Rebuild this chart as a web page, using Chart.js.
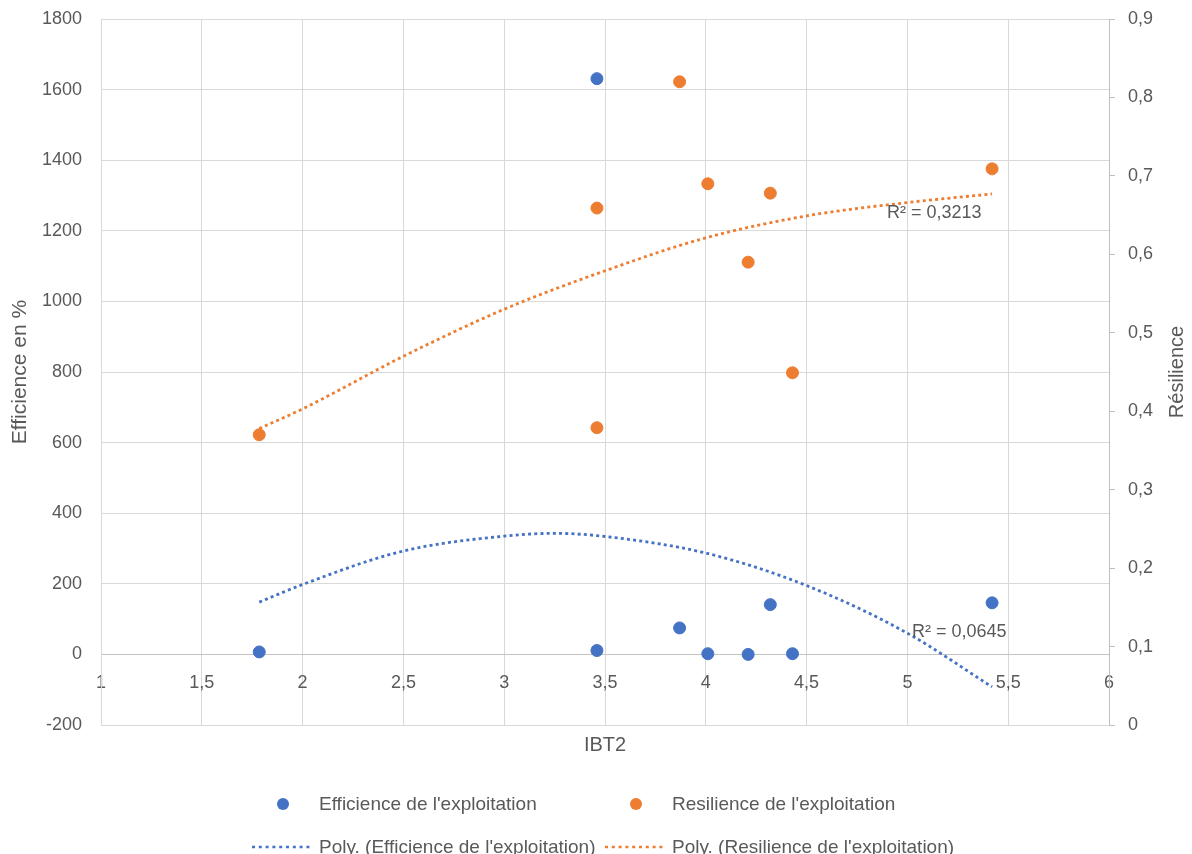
<!DOCTYPE html>
<html>
<head>
<meta charset="utf-8">
<script src="https://cdn.jsdelivr.net/npm/chart.js@4/dist/chart.umd.min.js"></script>
<style>
  html, body { margin: 0; padding: 0; background: #ffffff; }
  #wrap { position: relative; width: 1192px; height: 854px; overflow: hidden; }
  #c { position: absolute; left: 0; top: 0; }
  #legend { position: absolute; left: 252px; top: 792px; font-family: "Liberation Sans", Arial, sans-serif;
            font-size: 19px; color: #595959; display: grid; grid-template-columns: 353px 330px;
            grid-auto-rows: 24px; row-gap: 19px; }
  .item { display: flex; align-items: center; white-space: nowrap; height: 24px; }
  .mark { width: 61px; height: 24px; display: flex; align-items: center; justify-content: center; margin-right: 6px; flex: none; }
  .dot { width: 12px; height: 12px; border-radius: 50%; }
</style>
</head>
<body>
<div id="wrap">
  <canvas id="c" width="1192" height="854"></canvas>
  <div id="legend"></div>
</div>
<script>
// ---------- data ----------
const seriesNames = [
  "Efficience de l'exploitation",
  "Resilience de l'exploitation",
  "Poly. (Efficience de l'exploitation)",
  "Poly. (Resilience de l'exploitation)"
];
const ibt2 = [1.785, 3.46, 3.46, 3.87, 4.01, 4.21, 4.32, 4.43, 5.42];
const efficience = [7, 1631, 11, 75, 2, 0, 141, 2, 146];
const resilienceX = [1.785, 3.46, 3.46, 3.87, 4.01, 4.21, 4.32, 4.43, 5.42];
const resilience = [0.37, 0.659, 0.379, 0.82, 0.69, 0.59, 0.678, 0.449, 0.709];

const polyEffX = [1.785, 2, 2.5, 3, 3.25, 3.5, 4, 4.5, 5, 5.42];
const polyEffY = [148, 198, 293, 335, 343, 334, 287, 195, 60, -92];
const polyResX = [1.785, 2, 2.5, 3, 3.5, 4, 4.5, 5, 5.42];
const polyResY = [0.378, 0.403, 0.470, 0.530, 0.579, 0.621, 0.649, 0.666, 0.677];

const r2Texts = ["R\u00B2 = 0,0645", "R\u00B2 = 0,3213"];
const xTitle = "IBT2";
const yTitle = "Efficience en %";
const y2Title = "R\u00E9silience";

// ---------- styles ----------
const BLUE = '#4472C4';
const ORANGE = '#ED7D31';
const TXT = '#595959';
const GRID = '#d9d9d9';
const FONT = '"Liberation Sans", Arial, sans-serif';

const pts = (xs, ys) => xs.map((x, i) => ({x: x, y: ys[i]}));
const fmt = v => String(Math.round(v * 10) / 10).replace('.', ',');

const annotPlugin = {
  id: 'annot',
  afterDatasetsDraw(chart) {
    const ctx = chart.ctx;
    const sx = chart.scales.x, sy = chart.scales.y, sy2 = chart.scales.y2;
    ctx.save();
    ctx.fillStyle = TXT;
    ctx.font = '18px ' + FONT;
    ctx.textAlign = 'left';
    ctx.textBaseline = 'middle';
    ctx.fillText(r2Texts[0], sx.getPixelForValue(5.023), sy.getPixelForValue(62));
    ctx.fillText(r2Texts[1], sx.getPixelForValue(4.899), sy2.getPixelForValue(0.653));
    ctx.restore();
  },
  afterDraw(chart) {
    const ctx = chart.ctx;
    const a = chart.chartArea;
    ctx.save();
    ctx.fillStyle = TXT;
    ctx.font = '20px ' + FONT;
    ctx.textAlign = 'center';
    ctx.textBaseline = 'middle';
    ctx.translate(1177, (a.top + a.bottom) / 2);
    ctx.rotate(-Math.PI / 2);
    ctx.fillText(y2Title, 0, 0);
    ctx.restore();
  }
};

Chart.defaults.font.family = FONT;
Chart.defaults.color = TXT;

const chart = new Chart(document.getElementById('c'), {
  type: 'scatter',
  data: {
    datasets: [
      { type: 'scatter', label: seriesNames[0], data: pts(ibt2, efficience), yAxisID: 'y',
        pointRadius: 6, pointBackgroundColor: BLUE, pointBorderColor: BLUE, pointBorderWidth: 1, order: 1 },
      { type: 'scatter', label: seriesNames[1], data: pts(resilienceX, resilience), yAxisID: 'y2',
        pointRadius: 6, pointBackgroundColor: ORANGE, pointBorderColor: ORANGE, pointBorderWidth: 1, order: 1 },
      { type: 'line', label: seriesNames[2], data: pts(polyEffX, polyEffY), yAxisID: 'y',
        borderColor: BLUE, borderWidth: 2.8, borderDash: [3, 3.2], borderCapStyle: 'butt',
        pointRadius: 0, fill: false, cubicInterpolationMode: 'monotone', showLine: true, order: 2 },
      { type: 'line', label: seriesNames[3], data: pts(polyResX, polyResY), yAxisID: 'y2',
        borderColor: ORANGE, borderWidth: 2.8, borderDash: [3, 3.2], borderCapStyle: 'butt',
        pointRadius: 0, fill: false, cubicInterpolationMode: 'monotone', showLine: true, order: 2 }
    ]
  },
  options: {
    responsive: false,
    animation: false,
    events: [],
    layout: { padding: { top: 19, bottom: 89, left: 0, right: 0 } },
    plugins: { legend: { display: false }, tooltip: { enabled: false } },
    scales: {
      x: {
        type: 'linear', axis: 'x', position: { y: 0 },
        min: 1, max: 6,
        ticks: { stepSize: 0.5, padding: 18, color: TXT, font: { size: 18 }, callback: fmt, maxRotation: 0 },
        grid: { color: GRID, lineWidth: 1, drawTicks: false },
        border: { display: true, color: '#c4c4c4', width: 1 }
      },
      x2: {
        type: 'linear', axis: 'x', position: 'bottom', min: 1, max: 6,
        ticks: { display: false },
        grid: { display: false, drawTicks: false },
        border: { display: false },
        title: { display: true, text: xTitle, color: TXT, font: { size: 20 }, padding: { top: 0, bottom: 8 } },
        afterFit: s => { s.height = 40; }
      },
      y: {
        type: 'linear', position: 'left', min: -200, max: 1800,
        ticks: { stepSize: 200, padding: 19, color: TXT, font: { size: 18 }, callback: fmt },
        grid: { color: GRID, lineWidth: 1, drawTicks: false },
        border: { display: true, color: GRID, width: 1 },
        title: { display: true, text: yTitle, color: TXT, font: { size: 21 }, padding: { top: 8, bottom: 0 } },
        afterFit: s => { s.width = 101; s.paddingTop = 0; s.paddingBottom = 0; }
      },
      y2: {
        type: 'linear', position: 'right', min: 0, max: 0.9,
        ticks: { stepSize: 0.1, padding: 13, color: TXT, font: { size: 18 }, callback: fmt },
        grid: { drawOnChartArea: false, drawTicks: true, tickLength: 6, color: '#bfbfbf' },
        border: { display: true, color: '#bfbfbf', width: 1 },
        afterFit: s => { s.width = 83; s.paddingTop = 0; s.paddingBottom = 0; }
      }
    }
  },
  plugins: [annotPlugin]
});

// ---------- HTML legend built from the chart's datasets ----------
const legendEl = document.getElementById('legend');
[0, 1, 2, 3].forEach(i => {
  const ds = chart.data.datasets[i];
  const item = document.createElement('div');
  item.className = 'item';
  const mark = document.createElement('span');
  mark.className = 'mark';
  if (ds.type === 'scatter') {
    const d = document.createElement('span');
    d.className = 'dot';
    d.style.background = ds.pointBackgroundColor;
    mark.appendChild(d);
  } else {
    mark.innerHTML = '<svg width="61" height="6"><line x1="0" y1="3" x2="61" y2="3" stroke="' + ds.borderColor +
      '" stroke-width="2.5" stroke-dasharray="3 3.8"/></svg>';
  }
  const label = document.createElement('span');
  label.textContent = ds.label;
  item.appendChild(mark);
  item.appendChild(label);
  legendEl.appendChild(item);
});
</script>
</body>
</html>
